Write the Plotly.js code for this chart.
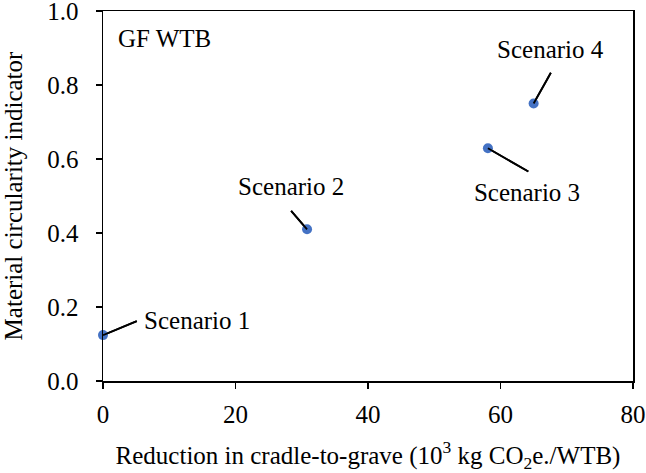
<!DOCTYPE html>
<html>
<head>
<meta charset="utf-8">
<script src="https://cdn.plot.ly/plotly-3.0.1.min.js"></script>
<style>html,body{margin:0;padding:0;background:#fff;}</style>
</head>
<body>
<div id="chart" style="width:646px;height:473px;"></div>
<script>
// Data
const scenarios = ["Scenario 1", "Scenario 2", "Scenario 3", "Scenario 4"];
const reduction = [0, 30.8, 58.1, 65.0];          // 10^3 kg CO2e./WTB
const mci = [0.124, 0.41, 0.629, 0.75];            // material circularity indicator
// Axis ticks
const xTicks = [0, 20, 40, 60, 80];
const yTicks = [0.0, 0.2, 0.4, 0.6, 0.8, 1.0];
const yTickText = ["0.0", "0.2", "0.4", "0.6", "0.8", "1.0"];
// Label placement (data coords)
const leaderX = [5.1, 28.4, 64.2, 67.6];
const leaderY = [0.162, 0.460, 0.566, 0.833];
const labelX = [6.2, 28.4, 64.0, 67.5];
const labelY = [0.157, 0.519, 0.503, 0.890];
const labelPos = ["middle right", "middle center", "middle center", "middle center"];

const font = "Liberation Serif, Times New Roman, serif";
const fs = 25;

// scenario labels as a text trace
const labels = {
  x: labelX, y: labelY, text: scenarios, type: "scatter", mode: "text",
  textposition: labelPos, textfont: {family: font, size: fs, color: "#000"},
  cliponaxis: false, hoverinfo: "skip"
};

// leader lines as a line trace (one segment per scenario)
const lx = [], ly = [];
scenarios.forEach((s, i) => {
  lx.push(reduction[i], leaderX[i], null);
  ly.push(mci[i], leaderY[i], null);
});
const leaders = {
  x: lx, y: ly, type: "scatter", mode: "lines", connectgaps: false,
  line: {color: "#000", width: 1.8, simplify: false}, hoverinfo: "skip"
};

const trace = {
  x: reduction, y: mci, type: "scatter", mode: "markers",
  marker: {color: "#4472C4", size: 10},
  cliponaxis: false, hoverinfo: "skip"
};

// leader lines also as shapes on top
const shapes = scenarios.map((s, i) => ({
  type: "line", xref: "x", yref: "y",
  x0: reduction[i], y0: mci[i], x1: leaderX[i], y1: leaderY[i],
  line: {color: "#000", width: 1.8}, layer: "above"
}));

const annotations = [{
  x: 1.96, y: 0.927, xref: "x", yref: "y", text: "GF WTB", showarrow: false,
  xanchor: "left", yanchor: "middle", height: 30,
  font: {family: font, size: fs, color: "#000"}
}];

const layout = {
  width: 646, height: 473,
  margin: {l: 103, r: 13, t: 11, b: 92},
  paper_bgcolor: "#fff", plot_bgcolor: "#fff",
  showlegend: false,
  font: {family: font, size: fs, color: "#000"},
  xaxis: {
    range: [0, 80], tickmode: "array", tickvals: xTicks, showgrid: false, zeroline: false,
    showline: true, mirror: true, linecolor: "#000", linewidth: 1.5,
    ticks: "outside", ticklen: 6, tickwidth: 1.5, tickcolor: "#000",
    ticklabelstandoff: 4, ticklabeloverflow: "allow",
    tickfont: {family: font, size: fs},
    title: {text: "Reduction in cradle-to-grave (10<sup>3</sup> kg CO<sub>2</sub>e./WTB)", font: {family: font, size: fs}, standoff: 30}
  },
  yaxis: {
    range: [0, 1.0], tickmode: "array", tickvals: yTicks, ticktext: yTickText,
    showgrid: false, zeroline: false,
    showline: true, mirror: true, linecolor: "#000", linewidth: 1.5,
    ticks: "outside", ticklen: 6, tickwidth: 1.5, tickcolor: "#000",
    ticklabelstandoff: 12, ticklabeloverflow: "allow",
    tickfont: {family: font, size: fs},
    title: {text: "Material circularity indicator", font: {family: font, size: fs}, standoff: 19}
  },
  shapes: shapes,
  annotations: annotations
};

Plotly.newPlot("chart", [labels, leaders, trace], layout, {staticPlot: true, displayModeBar: false});
</script>
</body>
</html>
